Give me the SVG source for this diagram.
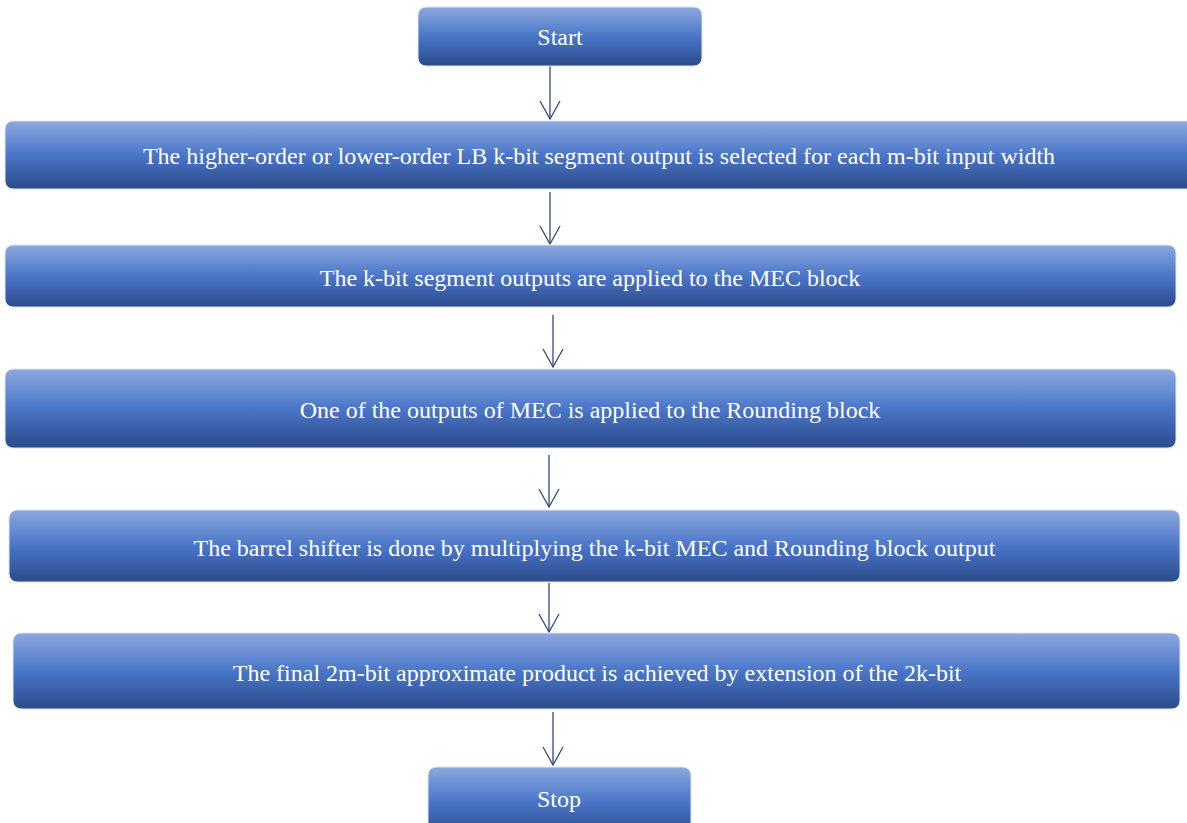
<svg xmlns="http://www.w3.org/2000/svg" width="1187" height="823" viewBox="0 0 1187 823">
<defs>
<linearGradient id="g" x1="0" y1="0" x2="0" y2="1">
<stop offset="0" stop-color="#8ca8dd"/>
<stop offset="0.5" stop-color="#4a76c8"/>
<stop offset="1" stop-color="#2c4b8a"/>
</linearGradient>
<marker id="ah" viewBox="0 0 20 22" refX="19" refY="11" markerWidth="20" markerHeight="22" markerUnits="userSpaceOnUse" orient="auto">
<path d="M1,1 L19,11 L1,21" fill="none" stroke="#2f4a7f" stroke-width="1.3"/>
</marker>
<style>
.box{fill:url(#g);stroke:#dfe6f3;stroke-width:1}
.t{font-family:"Liberation Serif","Times New Roman",serif;font-size:24px;fill:#ffffff;text-anchor:middle}
.c{stroke:#2f4a7f;stroke-width:1.3;fill:none}
</style>
</defs>
<g id="connectors">
<path class="c" d="M550,66 V119" marker-end="url(#ah)"/>
<path class="c" d="M550,192 V244" marker-end="url(#ah)"/>
<path class="c" d="M553,315 V367" marker-end="url(#ah)"/>
<path class="c" d="M549,455 V507" marker-end="url(#ah)"/>
<path class="c" d="M549,583 V632" marker-end="url(#ah)"/>
<path class="c" d="M553,712 V765" marker-end="url(#ah)"/>
</g>
<g id="start"><rect class="box" x="418" y="7" width="284" height="59" rx="8"/><text class="t" x="560" y="45">Start</text></g>
<g id="step1"><rect class="box" x="5" y="121" width="1190" height="68" rx="8"/><text class="t" x="599" y="164">The higher-order or lower-order LB k-bit segment output is selected for each m-bit input width</text></g>
<g id="step2"><rect class="box" x="5" y="245" width="1171" height="62" rx="8"/><text class="t" x="590" y="286">The k-bit segment outputs are applied to the MEC block</text></g>
<g id="step3"><rect class="box" x="5" y="369" width="1171" height="79" rx="8"/><text class="t" x="590" y="418">One of the outputs of MEC is applied to the Rounding block</text></g>
<g id="step4"><rect class="box" x="9" y="510" width="1171" height="72" rx="8"/><text class="t" x="594.5" y="556">The barrel shifter is done by multiplying the k-bit MEC and Rounding block output</text></g>
<g id="step5"><rect class="box" x="13" y="633" width="1167" height="76" rx="8"/><text class="t" x="597" y="681">The final 2m-bit approximate product is achieved by extension of the 2k-bit</text></g>
<g id="stop"><rect class="box" x="428" y="767" width="263" height="70" rx="8"/><text class="t" x="559" y="807">Stop</text></g>
</svg>
